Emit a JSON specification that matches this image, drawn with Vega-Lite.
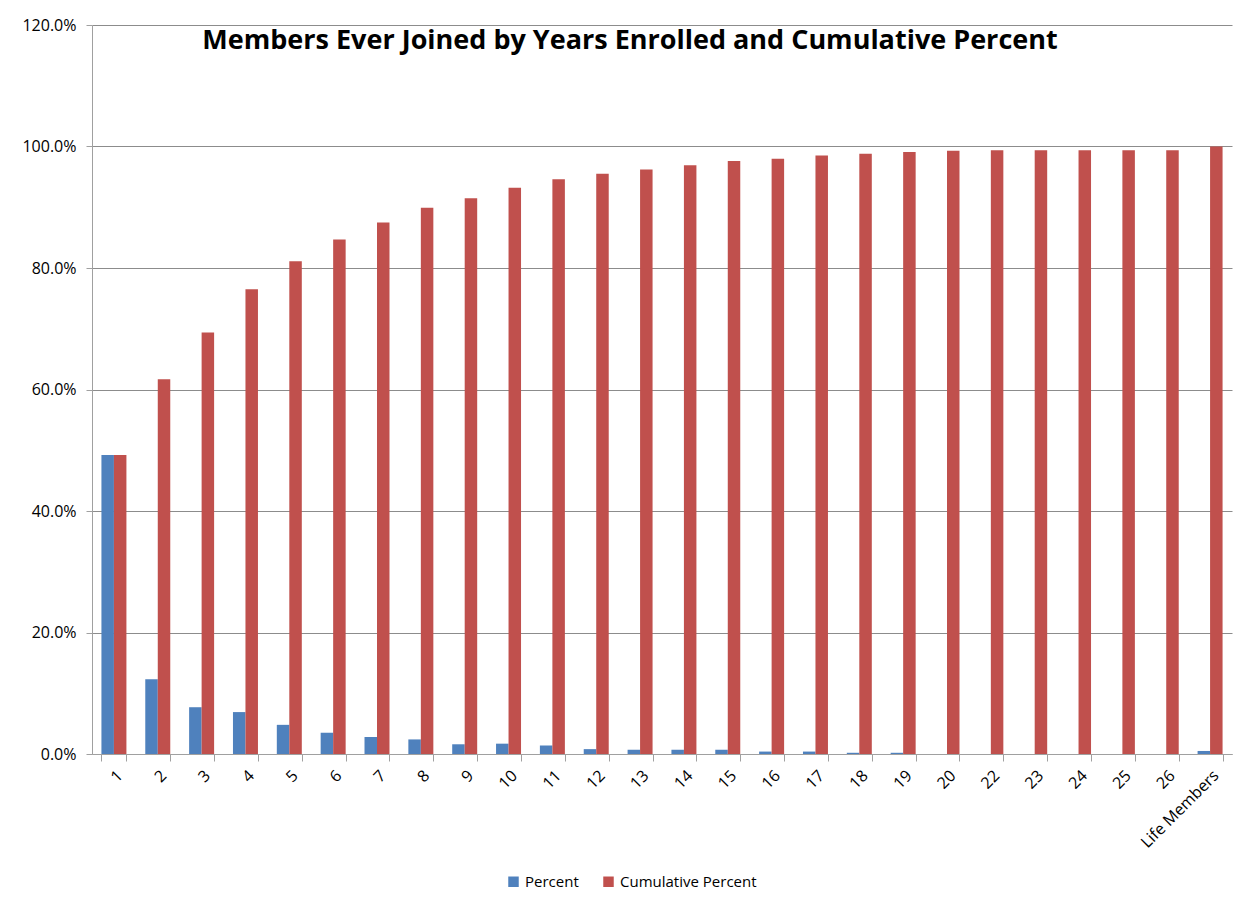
{
  "$schema": "https://vega.github.io/schema/vega-lite/v6.json",
  "autosize": "none",
  "width": 1140,
  "height": 729,
  "padding": {"left": 92, "top": 25, "right": 18, "bottom": 154},
  "background": "white",
  "title": {
    "text": "Members Ever Joined by Years Enrolled and Cumulative Percent",
    "font": "Open Sans",
    "fontSize": 27,
    "fontWeight": "bold",
    "color": "#000000",
    "anchor": "middle",
    "offset": -38,
    "dx": -32
  },
  "data": {
    "values": [
      {"years": "1", "series": "Percent", "value": 0.492},
      {"years": "1", "series": "Cumulative Percent", "value": 0.492},
      {"years": "2", "series": "Percent", "value": 0.123},
      {"years": "2", "series": "Cumulative Percent", "value": 0.617},
      {"years": "3", "series": "Percent", "value": 0.077},
      {"years": "3", "series": "Cumulative Percent", "value": 0.694},
      {"years": "4", "series": "Percent", "value": 0.069},
      {"years": "4", "series": "Cumulative Percent", "value": 0.765},
      {"years": "5", "series": "Percent", "value": 0.048},
      {"years": "5", "series": "Cumulative Percent", "value": 0.811},
      {"years": "6", "series": "Percent", "value": 0.035},
      {"years": "6", "series": "Cumulative Percent", "value": 0.847},
      {"years": "7", "series": "Percent", "value": 0.028},
      {"years": "7", "series": "Cumulative Percent", "value": 0.875},
      {"years": "8", "series": "Percent", "value": 0.024},
      {"years": "8", "series": "Cumulative Percent", "value": 0.899},
      {"years": "9", "series": "Percent", "value": 0.016},
      {"years": "9", "series": "Cumulative Percent", "value": 0.915},
      {"years": "10", "series": "Percent", "value": 0.017},
      {"years": "10", "series": "Cumulative Percent", "value": 0.932},
      {"years": "11", "series": "Percent", "value": 0.014},
      {"years": "11", "series": "Cumulative Percent", "value": 0.946},
      {"years": "12", "series": "Percent", "value": 0.008},
      {"years": "12", "series": "Cumulative Percent", "value": 0.955},
      {"years": "13", "series": "Percent", "value": 0.007},
      {"years": "13", "series": "Cumulative Percent", "value": 0.962},
      {"years": "14", "series": "Percent", "value": 0.007},
      {"years": "14", "series": "Cumulative Percent", "value": 0.969},
      {"years": "15", "series": "Percent", "value": 0.007},
      {"years": "15", "series": "Cumulative Percent", "value": 0.976},
      {"years": "16", "series": "Percent", "value": 0.004},
      {"years": "16", "series": "Cumulative Percent", "value": 0.980},
      {"years": "17", "series": "Percent", "value": 0.004},
      {"years": "17", "series": "Cumulative Percent", "value": 0.985},
      {"years": "18", "series": "Percent", "value": 0.002},
      {"years": "18", "series": "Cumulative Percent", "value": 0.988},
      {"years": "19", "series": "Percent", "value": 0.002},
      {"years": "19", "series": "Cumulative Percent", "value": 0.991},
      {"years": "20", "series": "Percent", "value": 0.0},
      {"years": "20", "series": "Cumulative Percent", "value": 0.993},
      {"years": "22", "series": "Percent", "value": 0.0},
      {"years": "22", "series": "Cumulative Percent", "value": 0.994},
      {"years": "23", "series": "Percent", "value": 0.0},
      {"years": "23", "series": "Cumulative Percent", "value": 0.994},
      {"years": "24", "series": "Percent", "value": 0.0},
      {"years": "24", "series": "Cumulative Percent", "value": 0.994},
      {"years": "25", "series": "Percent", "value": 0.0},
      {"years": "25", "series": "Cumulative Percent", "value": 0.994},
      {"years": "26", "series": "Percent", "value": 0.0},
      {"years": "26", "series": "Cumulative Percent", "value": 0.994},
      {"years": "Life Members", "series": "Percent", "value": 0.005},
      {"years": "Life Members", "series": "Cumulative Percent", "value": 1.0}
    ]
  },
  "mark": {"type": "bar"},
  "encoding": {
    "x": {
      "field": "years",
      "type": "nominal",
      "sort": null,
      "scale": {"paddingInner": 0.43, "paddingOuter": 0.215},
      "axis": {
        "title": null,
        "labelAngle": -45,
        "labelFont": "Open Sans",
        "labelFontSize": 16,
        "labelColor": "#000000",
        "labelPadding": 6,
        "tickBand": "extent",
        "tickSize": 7,
        "tickColor": "#A0A0A0",
        "domainColor": "#A0A0A0",
        "grid": false
      }
    },
    "xOffset": {
      "field": "series",
      "type": "nominal",
      "sort": ["Percent", "Cumulative Percent"],
      "scale": {"paddingInner": 0, "paddingOuter": 0}
    },
    "y": {
      "field": "value",
      "type": "quantitative",
      "scale": {"domain": [0, 1.2], "nice": false},
      "axis": {
        "title": null,
        "format": ".1%",
        "values": [0, 0.2, 0.4, 0.6, 0.8, 1.0, 1.2],
        "labelFont": "Open Sans",
        "labelFontSize": 16,
        "labelColor": "#000000",
        "labelPadding": 10,
        "tickSize": 6,
        "tickColor": "#A0A0A0",
        "domainColor": "#A0A0A0",
        "gridColor": "#8C8C8C",
        "gridWidth": 1
      }
    },
    "color": {
      "field": "series",
      "type": "nominal",
      "sort": ["Percent", "Cumulative Percent"],
      "scale": {"domain": ["Percent", "Cumulative Percent"], "range": ["#4F81BD", "#C0504D"]},
      "legend": {
        "title": null,
        "orient": "none",
        "direction": "horizontal",
        "legendX": 414,
        "legendY": 849,
        "symbolType": "square",
        "symbolSize": 110,
        "symbolStrokeWidth": 0,
        "labelFont": "Open Sans",
        "labelFontSize": 15,
        "labelColor": "#000000",
        "columnPadding": 22,
        "labelOffset": 4
      }
    }
  },
  "config": {
    "view": {"stroke": null}
  }
}
